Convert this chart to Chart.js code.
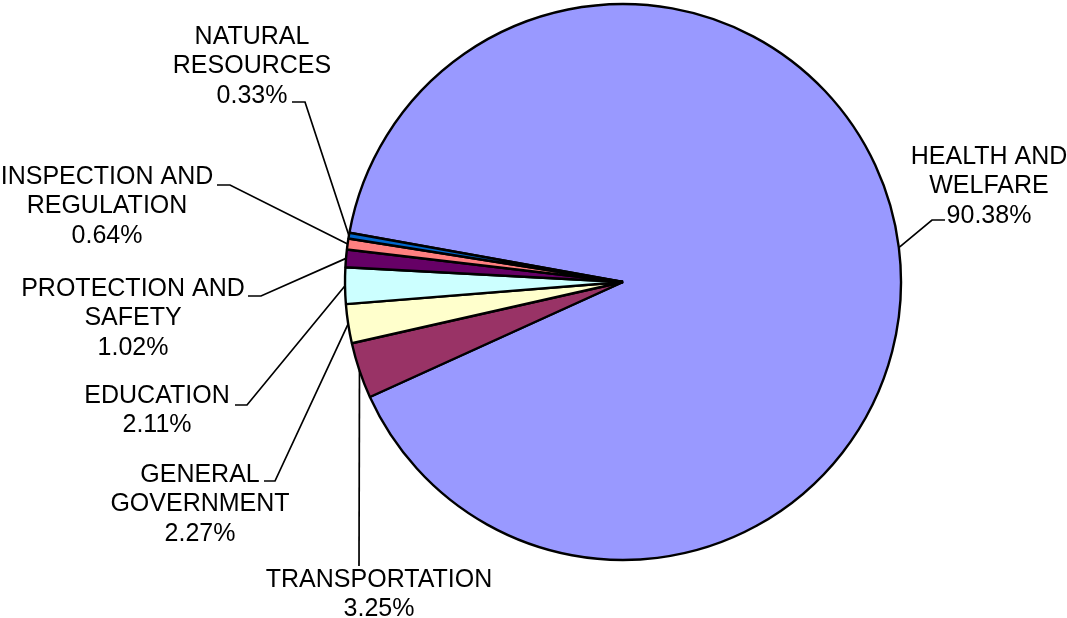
<!DOCTYPE html>
<html>
<head>
<meta charset="utf-8">
<script src="https://cdn.jsdelivr.net/npm/chart.js@4.4.1/dist/chart.umd.min.js"></script>
<style>
  html, body { margin: 0; padding: 0; background: #ffffff; }
  #wrap { width: 1067px; height: 618px; position: relative; }
</style>
</head>
<body>
<div id="wrap"><canvas id="c" width="1067" height="618"></canvas></div>
<script>
// ---- data ----
const categories = ["HEALTH AND WELFARE", "TRANSPORTATION", "GENERAL GOVERNMENT", "EDUCATION", "PROTECTION AND SAFETY", "INSPECTION AND REGULATION", "NATURAL RESOURCES"];
const labelLines = [["HEALTH AND", "WELFARE"], ["TRANSPORTATION"], ["GENERAL", "GOVERNMENT"], ["EDUCATION"], ["PROTECTION AND", "SAFETY"], ["INSPECTION AND", "REGULATION"], ["NATURAL", "RESOURCES"]];
const percentages = [90.38, 3.25, 2.27, 2.11, 1.02, 0.64, 0.33];
const percentLabels = ["90.38%", "3.25%", "2.27%", "2.11%", "1.02%", "0.64%", "0.33%"];

// ---- styles / layout ----
const colors = ["#9999FF", "#993366", "#FFFFCC", "#CCFFFF", "#660066", "#FF8080", "#0066CC"];
// text centre x, first line centre y, leader elbow points (text side)
const labelLayout = [
  { cx: 989, y0: 157, pts: [[945, 220], [932, 220]] },
  { cx: 379, y0: 580, pts: [[359, 566]] },
  { cx: 200, y0: 475, pts: [[264, 481], [275, 481]] },
  { cx: 157, y0: 396, pts: [[235, 405], [247, 405]] },
  { cx: 133, y0: 289, pts: [[248, 296], [261, 296]] },
  { cx: 107, y0: 177, pts: [[217, 185], [230, 185]] },
  { cx: 252, y0: 37,  pts: [[292, 102], [305, 102]] }
];
const lineGap = 29.5;

const labelPlugin = {
  id: 'pieLabels',
  afterDatasetsDraw(chart) {
    const ctx = chart.ctx;
    const meta = chart.getDatasetMeta(0);
    ctx.save();
    ctx.font = '25px "Liberation Sans", Arial, sans-serif';
    ctx.fillStyle = '#000';
    ctx.textAlign = 'center';
    ctx.textBaseline = 'middle';
    meta.data.forEach((arc, i) => {
      const p = arc.getProps(['x', 'y', 'startAngle', 'endAngle', 'outerRadius'], true);
      const mid = (p.startAngle + p.endAngle) / 2;
      const ax = p.x + Math.cos(mid) * p.outerRadius;
      const ay = p.y + Math.sin(mid) * p.outerRadius;
      const lay = labelLayout[i];
      // leader line
      ctx.beginPath();
      ctx.lineWidth = 1.7;
      ctx.strokeStyle = '#000';
      ctx.moveTo(lay.pts[0][0], lay.pts[0][1]);
      for (let k = 1; k < lay.pts.length; k++) ctx.lineTo(lay.pts[k][0], lay.pts[k][1]);
      ctx.lineTo(ax, ay);
      ctx.stroke();
      // text
      const lines = labelLines[i].concat([percentLabels[i]]);
      lines.forEach((t, j) => ctx.fillText(t, lay.cx, lay.y0 + j * lineGap));
    });
    ctx.restore();
  }
};

new Chart(document.getElementById('c'), {
  type: 'pie',
  data: {
    labels: categories,
    datasets: [{
      data: percentages,
      backgroundColor: colors,
      borderColor: '#000000',
      borderWidth: 2.4,
      radius: 278
    }]
  },
  options: {
    responsive: false,
    animation: false,
    rotation: 280.2,
    events: [],
    layout: { padding: { left: 179, right: 0, top: 0, bottom: 54 } },
    plugins: {
      legend: { display: false },
      tooltip: { enabled: false },
      title: { display: false }
    }
  },
  plugins: [labelPlugin]
});
</script>
</body>
</html>
